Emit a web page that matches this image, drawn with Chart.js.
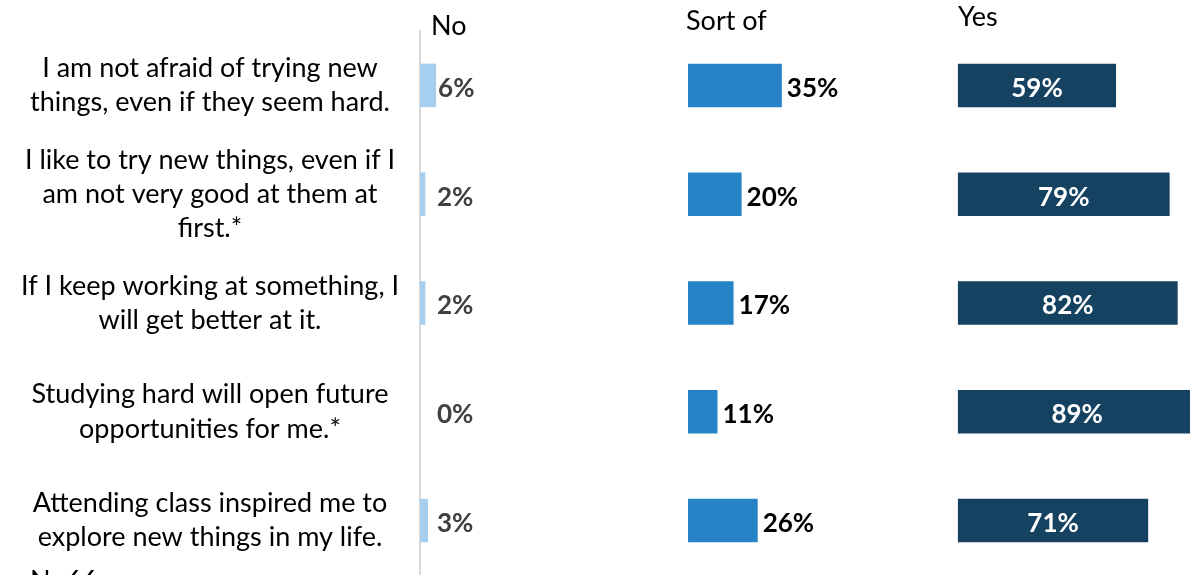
<!DOCTYPE html>
<html>
<head>
<meta charset="utf-8">
<script src="https://cdn.jsdelivr.net/npm/chart.js@4.4.1/dist/chart.umd.min.js"></script>
<style>
  html, body { margin: 0; padding: 0; background: #fff; }
  #wrap { position: relative; width: 1190px; height: 575px; }
</style>
</head>
<body>
<div id="wrap"><canvas id="growthChart"></canvas></div>
<script>
// survey statements (multi-line labels)
const statements = [
  ['I am not afraid of trying new', 'things, even if they seem hard.'],
  ['I like to try new things, even if I', 'am not very good at them at', 'first.*'],
  ['If I keep working at something, I', 'will get better at it.'],
  ['Studying hard will open future', 'opportunities for me.*'],
  ['Attending class inspired me to', 'explore new things in my life.']
];
const answerNames = ['No', 'Sort of', 'Yes'];
const noValues = [6, 2, 2, 0, 3];
const sortOfValues = [35, 20, 17, 11, 26];
const yesValues = [59, 79, 82, 89, 71];
const sampleNote = 'N=66';

const FONT = 'Lato, "Open Sans", sans-serif';
const SPAN = 287.3; // percent units across the plot width

// value labels + panel headers
const labelPlugin = {
  id: 'panelLabels',
  afterDatasetsDraw(chart) {
    const ctx = chart.ctx;
    ctx.save();
    ctx.font = 'bold 26px ' + FONT;
    ctx.textBaseline = 'middle';
    chart.data.datasets.forEach((ds, i) => {
      const meta = chart.getDatasetMeta(i);
      meta.data.forEach((bar, j) => {
        const txt = ds.data[j] + '%';
        const y = bar.y + 3;
        if (i === 0) {
          ctx.fillStyle = '#404040';
          ctx.textAlign = 'left';
          ctx.fillText(txt, Math.max(bar.x, bar.base + 15) + 2, y);
        } else if (i === 1) {
          ctx.fillStyle = '#000';
          ctx.textAlign = 'left';
          ctx.fillText(txt, bar.x + 5, y);
        } else {
          ctx.fillStyle = '#fff';
          ctx.textAlign = 'center';
          ctx.fillText(txt, (bar.x + bar.base) / 2, y);
        }
      });
    });

    // headers over each panel
    ctx.font = '27px ' + FONT;
    ctx.fillStyle = '#000';
    ctx.textAlign = 'left';
    const shift = [11, -2, 0];
    const ys = [26, 21, 17];
    ['xNo', 'xSort', 'xYes'].forEach((id, k) => {
      const x0 = chart.scales[id].getPixelForValue(0);
      ctx.fillText(answerNames[k], x0 + shift[k], ys[k]);
    });

    ctx.textBaseline = 'alphabetic';
    ctx.fillText(sampleNote, 30, 590);
    ctx.restore();
  }
};

const ctx = document.getElementById('growthChart').getContext('2d');
new Chart(ctx, {
  type: 'bar',
  data: {
    labels: statements,
    datasets: [
      { label: answerNames[0], data: noValues, xAxisID: 'xNo', backgroundColor: '#A6CEEE' },
      { label: answerNames[1], data: sortOfValues, xAxisID: 'xSort', backgroundColor: '#2683C6' },
      { label: answerNames[2], data: yesValues, xAxisID: 'xYes', backgroundColor: '#164262' }
    ]
  },
  options: {
    indexAxis: 'y',
    responsive: true,
    maintainAspectRatio: false,
    animation: false,
    layout: { padding: { top: 31, left: 0, right: 0, bottom: 0 } },
    datasets: {
      bar: { grouped: false, barPercentage: 0.4, categoryPercentage: 1, borderWidth: 0 }
    },
    scales: {
      y: {
        position: 'left',
        grid: { display: false },
        border: { display: true, color: '#d9d9d9', width: 2 },
        afterFit: (scale) => {
          scale.width = 420;
          // labels may overflow vertically, don't shrink the plot for them
          scale.paddingTop = 0;
          scale.paddingBottom = 0;
        },
        ticks: {
          autoSkip: false,
          crossAlign: 'center',
          padding: 13,
          color: '#000',
          font: { family: FONT, size: 27, lineHeight: 1.26 }
        }
      },
      xNo: { type: 'linear', axis: 'x', display: false, min: 0, max: SPAN },
      xSort: { type: 'linear', axis: 'x', display: false, min: -100, max: SPAN - 100 },
      xYes: { type: 'linear', axis: 'x', display: false, min: -200.7, max: SPAN - 200.7 }
    },
    plugins: {
      legend: { display: false },
      tooltip: { enabled: false }
    }
  },
  plugins: [labelPlugin]
});
</script>
</body>
</html>
